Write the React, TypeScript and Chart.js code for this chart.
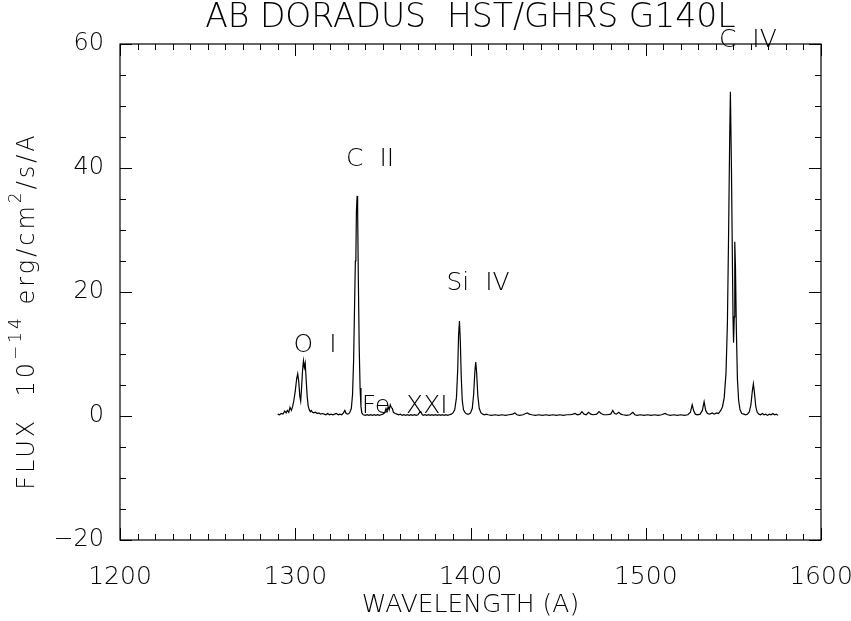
import React, { useEffect, useRef } from "react";
import { Chart, registerables } from "chart.js";
Chart.register(...registerables);

const TITLE = "AB DORADUS  HST/GHRS G140L";
const X_LABEL = "WAVELENGTH (A)";
// y label pieces: text, superscript flag
const Y_LABEL_TEXT = ["FLUX  10", "\u221214", " erg/cm", "2", "/s/A"];
const Y_LABEL_SUP = [false, true, false, true, false];
const X_RANGE = [1200, 1600];
const Y_RANGE = [-20, 60];

const wavelength = [
  1290.0, 1291.0, 1292.0, 1293.0, 1294.0, 1294.8, 1295.5, 1296.3, 1297.0, 1297.8, 1298.5, 1299.2,
  1300.0, 1300.8, 1301.4, 1302.0, 1302.6, 1303.1, 1303.6, 1304.2, 1304.7, 1305.2, 1305.7, 1306.2,
  1306.8, 1307.4, 1308.0, 1308.6, 1309.2, 1309.8, 1310.5, 1311.5, 1312.5, 1313.5, 1314.5, 1315.5,
  1316.5, 1317.5, 1318.5, 1319.5, 1320.5, 1321.5, 1322.5, 1323.5, 1324.5, 1325.5, 1326.5, 1327.5,
  1328.3, 1329.0, 1330.0, 1331.0, 1332.0, 1332.7, 1333.3, 1333.8, 1334.3, 1334.6, 1334.9, 1335.3,
  1335.6, 1336.0, 1336.5, 1337.0, 1337.5, 1338.0, 1338.8, 1340.0, 1341.0, 1342.0, 1343.0, 1344.0,
  1345.0, 1346.0, 1347.0, 1348.0, 1349.0, 1350.0, 1351.0, 1351.8, 1352.4, 1353.0, 1353.6, 1354.2,
  1354.8, 1355.4, 1356.0, 1357.0, 1358.0, 1359.0, 1360.0, 1361.0, 1362.0, 1363.0, 1364.0, 1365.0,
  1366.0, 1367.0, 1368.0, 1369.0, 1370.0, 1371.0, 1371.6, 1372.3, 1373.0, 1374.0, 1375.0, 1376.0,
  1377.0, 1378.0, 1379.0, 1380.0, 1381.0, 1382.0, 1383.0, 1384.0, 1385.0, 1386.0, 1387.0, 1388.0,
  1389.0, 1390.0, 1391.0, 1392.0, 1392.7, 1393.2, 1393.7, 1394.2, 1394.7, 1395.3, 1396.0, 1397.0,
  1398.0, 1399.0, 1400.0, 1401.0, 1401.8, 1402.5, 1403.0, 1403.5, 1404.2, 1405.0, 1406.0, 1407.0,
  1408.0, 1409.0, 1410.0, 1412.0, 1414.0, 1416.0, 1418.0, 1420.0, 1422.0, 1424.0, 1425.3, 1426.5,
  1428.0, 1430.0, 1431.5, 1432.5, 1433.5, 1435.0, 1437.0, 1439.0, 1441.0, 1443.0, 1445.0, 1447.0,
  1449.0, 1451.0, 1453.0, 1455.0, 1457.0, 1458.5, 1459.6, 1461.0, 1462.5, 1463.6, 1464.8, 1466.0,
  1467.4, 1468.6, 1470.0, 1472.0, 1473.3, 1474.5, 1476.0, 1478.0, 1480.0, 1481.2, 1482.2, 1483.2,
  1484.6, 1485.8, 1487.0, 1489.0, 1491.0, 1492.6, 1493.8, 1495.0, 1497.0, 1499.0, 1501.0, 1503.0,
  1505.0, 1507.0, 1509.0, 1511.0, 1512.5, 1514.0, 1516.0, 1518.0, 1520.0, 1522.0, 1524.0, 1525.5,
  1526.5, 1527.4, 1528.3, 1529.5, 1531.0, 1532.3, 1533.3, 1534.2, 1535.2, 1536.5, 1538.0, 1539.0,
  1540.5, 1541.5, 1542.8, 1543.8, 1544.8, 1545.8, 1546.6, 1547.3, 1547.9, 1548.3, 1548.9, 1549.4,
  1549.8, 1550.1, 1550.5, 1550.8, 1551.2, 1551.7, 1552.3, 1553.0, 1553.8, 1554.8, 1556.0, 1557.0,
  1558.0, 1559.0, 1560.0, 1560.8, 1561.4, 1562.0, 1562.8, 1563.6, 1564.5, 1565.5, 1566.5, 1567.5,
  1568.5, 1569.5, 1570.5, 1571.5, 1572.5, 1573.5, 1574.5, 1575.5,
];

const flux = [
  0.3, 0.2, 0.4, 0.3, 0.8, 0.5, 0.9, 0.6, 1.4, 0.9, 1.5, 2.5,
  4.0, 6.0, 6.8, 5.5, 3.2, 2.4, 4.5, 7.5, 8.9, 7.8, 8.5, 6.0,
  3.2, 1.6, 1.0, 0.7, 0.9, 0.6, 0.5, 0.6, 0.4, 0.5, 0.3, 0.4,
  0.3, 0.2, 0.4, 0.2, 0.3, 0.2, 0.3, 0.4, 0.2, 0.3, 0.2, 0.5,
  0.9, 0.4, 0.3, 0.5, 1.2, 3.5, 9.0, 17.0, 25.0, 25.8, 33.0, 35.5,
  33.0, 22.0, 11.0, 4.5, 1.5, 0.5, 0.2, 0.1, 0.2, 0.1, 0.2, 0.1,
  0.2, 0.1, 0.2, 0.1, 0.2, 0.3, 0.5, 1.2, 0.8, 1.5, 1.0, 1.8,
  1.4, 1.2, 0.6, 0.4, 0.3, 0.2, 0.3, 0.1, 0.2, 0.1, 0.2, 0.1,
  0.2, 0.1, 0.2, 0.1, 0.2, 0.6, 0.7, 0.3, 0.1, 0.2, 0.1, 0.2,
  0.1, 0.2, 0.1, 0.2, 0.1, 0.2, 0.1, 0.2, 0.1, 0.2, 0.1, 0.2,
  0.3, 0.5, 1.0, 3.0, 7.5, 13.0, 15.3, 12.0, 6.5, 2.5, 1.0, 0.5,
  0.3, 0.3, 0.5, 1.2, 3.5, 7.2, 8.7, 7.0, 3.2, 1.2, 0.5, 0.3,
  0.2, 0.3, 0.2, 0.1, 0.2, 0.1, 0.2, 0.1, 0.2, 0.3, 0.5, 0.2,
  0.1, 0.2, 0.4, 0.5, 0.3, 0.2, 0.1, 0.2, 0.1, 0.2, 0.1, 0.2,
  0.1, 0.2, 0.1, 0.2, 0.2, 0.3, 0.4, 0.2, 0.3, 0.7, 0.3, 0.2,
  0.6, 0.3, 0.2, 0.3, 0.7, 0.4, 0.2, 0.2, 0.3, 0.9, 0.4, 0.3,
  0.6, 0.3, 0.2, 0.1, 0.2, 0.6, 0.2, 0.1, 0.2, 0.1, 0.2, 0.1,
  0.2, 0.1, 0.2, 0.4, 0.2, 0.1, 0.2, 0.1, 0.2, 0.1, 0.2, 0.6,
  1.8, 0.8, 0.3, 0.2, 0.3, 0.9, 2.3, 0.9, 0.4, 0.3, 0.5, 0.3,
  0.5, 0.4, 0.9, 1.5, 3.0, 7.0, 15.0, 30.0, 45.0, 52.3, 40.0, 26.0,
  16.0, 11.8, 16.0, 28.1, 24.0, 14.0, 6.0, 2.5, 1.0, 0.4, 0.3, 0.2,
  0.3, 0.6, 1.8, 4.0, 5.2, 3.8, 1.5, 0.6, 0.3, 0.2, 0.4, 0.2,
  0.3, 0.1, 0.3, 0.2, 0.4, 0.2, 0.3, 0.1,
];

const lineLabels = ["O  I", "C  II", "Fe  XXI", "Si  IV", "C  IV"];
const lineLabelX = [1311.3, 1342.7, 1362.5, 1404.3, 1558.3];
const lineLabelY = [11.3, 41.3, 1.5, 21.3, 60.6];

const FONT_FAMILY = "'DejaVu Sans', sans-serif";
const FONT_WEIGHT = "200";

const framePlugin = {
  id: "frame",
  afterDraw(chart: any) {
    const { ctx, chartArea: a, scales } = chart;
    const xs = scales.x;
    const ys = scales.y;
    ctx.save();
    ctx.strokeStyle = "#000";
    ctx.lineWidth = 1.2;
    ctx.strokeRect(a.left, a.top, a.right - a.left, a.bottom - a.top);
    ctx.beginPath();
    for (let v = X_RANGE[0]; v <= X_RANGE[1]; v += 10) {
      const px = Math.round(xs.getPixelForValue(v)) + 0.5;
      const len = v % 100 === 0 ? 12 : 6;
      ctx.moveTo(px, a.bottom);
      ctx.lineTo(px, a.bottom - len);
      ctx.moveTo(px, a.top);
      ctx.lineTo(px, a.top + len);
    }
    for (let v = Y_RANGE[0]; v <= Y_RANGE[1]; v += 5) {
      const py = Math.round(ys.getPixelForValue(v)) + 0.5;
      const len = v % 20 === 0 ? 12 : 6;
      ctx.moveTo(a.left, py);
      ctx.lineTo(a.left + len, py);
      ctx.moveTo(a.right, py);
      ctx.lineTo(a.right - len, py);
    }
    ctx.lineWidth = 1;
    ctx.stroke();

    ctx.fillStyle = "#000";
    ctx.textAlign = "center";
    ctx.textBaseline = "middle";
    ctx.font = `${FONT_WEIGHT} 25px ${FONT_FAMILY}`;
    for (let i = 0; i < lineLabels.length; i++) {
      ctx.fillText(
        lineLabels[i],
        xs.getPixelForValue(lineLabelX[i]),
        ys.getPixelForValue(lineLabelY[i])
      );
    }
    ctx.font = `${FONT_WEIGHT} 33px ${FONT_FAMILY}`;
    ctx.fillText(TITLE, (a.left + a.right) / 2, 18);

    // y axis label, rotated, with superscripts
    const normalFont = `${FONT_WEIGHT} 24px ${FONT_FAMILY}`;
    const supFont = `${FONT_WEIGHT} 17px ${FONT_FAMILY}`;
    (ctx as any).letterSpacing = "3px";
    let total = 0;
    for (let i = 0; i < Y_LABEL_TEXT.length; i++) {
      ctx.font = Y_LABEL_SUP[i] ? supFont : normalFont;
      total += ctx.measureText(Y_LABEL_TEXT[i]).width;
    }
    ctx.translate(28, 311);
    ctx.rotate(-Math.PI / 2);
    ctx.textAlign = "left";
    let cx = -total / 2;
    for (let i = 0; i < Y_LABEL_TEXT.length; i++) {
      const sup = Y_LABEL_SUP[i];
      ctx.font = sup ? supFont : normalFont;
      ctx.fillText(Y_LABEL_TEXT[i], cx, sup ? -11 : 0);
      cx += ctx.measureText(Y_LABEL_TEXT[i]).width;
    }
    (ctx as any).letterSpacing = "0px";
    ctx.restore();
  },
};

const noPadX = (h: number) => (s: any) => {
  s.height = h;
  s.paddingLeft = 0;
  s.paddingRight = 0;
};
const noPadY = (w: number) => (s: any) => {
  s.width = w;
  s.paddingTop = 0;
  s.paddingBottom = 0;
};

export default function App() {
  const ref = useRef<HTMLCanvasElement>(null);
  useEffect(() => {
    const canvas = ref.current!;
    const xFont = { family: FONT_FAMILY, size: 25, weight: FONT_WEIGHT as any };
    const yFont = { family: FONT_FAMILY, size: 24, weight: FONT_WEIGHT as any };
    const chart = new Chart(canvas, {
      type: "scatter",
      data: {
        datasets: [
          {
            data: wavelength.map((w, i) => ({ x: w, y: flux[i] })),
            showLine: true,
            borderColor: "#000",
            borderWidth: 1.2,
            pointRadius: 0,
            tension: 0,
            xAxisID: "x",
            yAxisID: "y",
          },
        ],
      },
      options: {
        animation: false,
        responsive: false,
        maintainAspectRatio: false,
        layout: { padding: 0 },
        plugins: { legend: { display: false }, tooltip: { enabled: false } },
        scales: {
          x: {
            type: "linear",
            position: "bottom",
            min: X_RANGE[0],
            max: X_RANGE[1],
            ticks: {
              stepSize: 100,
              color: "#000",
              font: xFont,
              padding: 22,
              maxRotation: 0,
              callback: (v: any) => String(v),
            },
            grid: { display: false, drawTicks: false },
            border: { display: false },
            title: {
              display: true,
              text: X_LABEL,
              color: "#000",
              font: xFont,
              padding: { top: 0, bottom: 1 },
            },
            afterFit: noPadX(81),
          },
          x2: {
            type: "linear",
            position: "top",
            min: X_RANGE[0],
            max: X_RANGE[1],
            ticks: { display: false },
            grid: { display: false, drawTicks: false },
            border: { display: false },
            afterFit: noPadX(44),
          },
          y: {
            type: "linear",
            position: "left",
            min: Y_RANGE[0],
            max: Y_RANGE[1],
            ticks: {
              stepSize: 20,
              color: "#000",
              font: yFont,
              padding: 16,
              callback: (v: any) => String(v).replace("-", "\u2212"),
            },
            grid: { display: false, drawTicks: false },
            border: { display: false },
            title: { display: false },
            afterFit: noPadY(120),
          },
          y2: {
            type: "linear",
            position: "right",
            min: Y_RANGE[0],
            max: Y_RANGE[1],
            ticks: { display: false },
            grid: { display: false, drawTicks: false },
            border: { display: false },
            afterFit: noPadY(30),
          },
        },
      },
      plugins: [framePlugin],
    });
    return () => chart.destroy();
  }, []);
  return (
    <div style={{ position: "fixed", left: 0, top: 0, width: 851, height: 621, background: "#fff" }}>
      <canvas ref={ref} width={851} height={621} style={{ display: "block" }} />
    </div>
  );
}
